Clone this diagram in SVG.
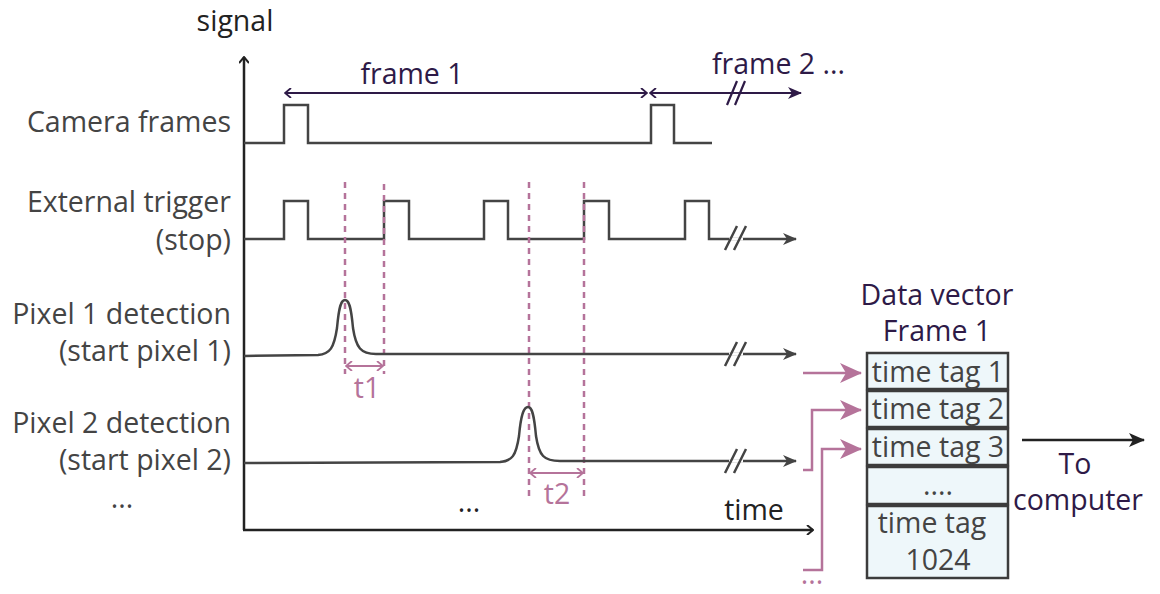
<svg xmlns="http://www.w3.org/2000/svg" width="1160" height="594" viewBox="0 0 1160 594">
<defs>
<style>
.lbl{font-family:"Open Sans","Liberation Sans",sans-serif;font-size:28.5px;fill:#444;}
.blk{font-family:"Open Sans","Liberation Sans",sans-serif;font-size:28.5px;fill:#222;}
.pur{font-family:"Open Sans","Liberation Sans",sans-serif;font-size:28.5px;fill:#2e1a47;}
.pink{font-family:"Open Sans","Liberation Sans",sans-serif;font-size:28.5px;fill:#b5739a;}
.sig{fill:none;stroke:#444;stroke-width:2.5;}
.dash{fill:none;stroke:#b5739a;stroke-width:2.5;stroke-dasharray:6 5;}
.parr{fill:none;stroke:#b5739a;stroke-width:2.5;}
.cell{fill:#eef7fa;stroke:#3c3c3c;stroke-width:2.5;}
.tag{font-family:"Open Sans","Liberation Sans",sans-serif;font-size:28.5px;fill:#444;text-anchor:middle;}
</style>
<marker id="ah" viewBox="0 0 14 12" refX="13" refY="6" markerWidth="14" markerHeight="12" markerUnits="userSpaceOnUse" orient="auto"><path d="M0,0 L14,6 L0,12 L4,6 Z" fill="#444"/></marker>
<marker id="ahp" viewBox="0 0 14 12" refX="13" refY="6" markerWidth="14" markerHeight="12" markerUnits="userSpaceOnUse" orient="auto"><path d="M0,0 L14,6 L0,12 L4,6 Z" fill="#2e1a47"/></marker>
<marker id="ahk" viewBox="0 0 16 14" refX="15" refY="7" markerWidth="16" markerHeight="14" markerUnits="userSpaceOnUse" orient="auto"><path d="M0,0 L16,7 L0,14 L4,7 Z" fill="#222"/></marker>
<marker id="ahm" viewBox="0 0 22 20" refX="21" refY="10" markerWidth="22" markerHeight="20" markerUnits="userSpaceOnUse" orient="auto"><path d="M0,0 L22,10 L0,20 L6,10 Z" fill="#b5739a"/></marker>
<marker id="chev" viewBox="0 0 8 10" refX="7" refY="5" markerWidth="8" markerHeight="10" markerUnits="userSpaceOnUse" orient="auto-start-reverse"><path d="M1,0 L7,5 L1,10" fill="none" stroke="#2e1a47" stroke-width="1.8"/></marker>
<marker id="chevs" viewBox="0 0 8 10" refX="7" refY="5" markerWidth="8" markerHeight="10" markerUnits="userSpaceOnUse" orient="auto-start-reverse"><path d="M1,0 L7,5 L1,10" fill="none" stroke="#b5739a" stroke-width="1.8"/></marker>
<marker id="axh" viewBox="0 0 8 10" refX="7" refY="5" markerWidth="8" markerHeight="10" markerUnits="userSpaceOnUse" orient="auto"><path d="M1,0 L7,5 L1,10" fill="none" stroke="#222" stroke-width="2"/></marker>
</defs>
<rect width="1160" height="594" fill="#fff"/>

<g id="axes">
<line x1="244" y1="530" x2="244" y2="57" stroke="#222" stroke-width="2.5" marker-end="url(#axh)"/>
<line x1="243" y1="530" x2="813" y2="530" stroke="#222" stroke-width="2.5" marker-end="url(#axh)"/>
<text class="blk" x="235" y="31" text-anchor="middle">signal</text>
<text class="blk" x="754" y="520" text-anchor="middle">time</text>
<text class="blk" x="469" y="512" text-anchor="middle">...</text>
</g>

<g id="labels">
<text class="lbl" x="231" y="132" text-anchor="end">Camera frames</text>
<text class="lbl" x="231" y="212" text-anchor="end">External trigger</text>
<text class="lbl" x="231" y="250" text-anchor="end">(stop)</text>
<text class="lbl" x="231" y="324" text-anchor="end">Pixel 1 detection</text>
<text class="lbl" x="231" y="361" text-anchor="end">(start pixel 1)</text>
<text class="lbl" x="231" y="433" text-anchor="end">Pixel 2 detection</text>
<text class="lbl" x="231" y="470" text-anchor="end">(start pixel 2)</text>
<text class="lbl" x="122" y="508" text-anchor="middle">...</text>
</g>

<g id="frame-arrows">
<line x1="285" y1="93" x2="647" y2="93" stroke="#2e1a47" stroke-width="2.2" marker-start="url(#chev)" marker-end="url(#chev)"/>
<line x1="650" y1="93" x2="801" y2="93" stroke="#2e1a47" stroke-width="2.2" marker-start="url(#chev)" marker-end="url(#ahp)"/>
<path d="M727,105 L737,81 M735,105 L745,81" stroke="#2e1a47" stroke-width="2.2" fill="none"/>
<text class="pur" x="412" y="84" text-anchor="middle">frame 1</text>
<text class="pur" x="712" y="74">frame 2 ...</text>
</g>

<g id="camera-frames">
<path class="sig" d="M244,143 H284 V105 H308 V143 H651 V105 H674 V143 H712"/>
</g>

<g id="external-trigger">
<path class="sig" d="M244,239 H284 V201 H308 V239 H384 V201 H409 V239 H484 V201 H508 V239 H584 V201 H609 V239 H685 V201 H709 V239 H796" marker-end="url(#ah)"/>
<line x1="729" y1="239" x2="743" y2="239" stroke="#fff" stroke-width="3"/>
<path d="M725,250 L737,226 M734,250 L746,226" stroke="#444" stroke-width="2.5" fill="none"/>
</g>

<g id="dashed-markers">
<line class="dash" x1="345" y1="182" x2="345" y2="374"/>
<line class="dash" x1="384" y1="184" x2="384" y2="374"/>
<line class="dash" x1="529" y1="182" x2="529" y2="496"/>
<line class="dash" x1="584" y1="182" x2="584" y2="496"/>
</g>

<g id="pixel1">
<path class="sig" d="M244,356 L318,355 C330,354 334,348 337,328 C339,306 341,300 345,300 C349,300 351,306 353,328 C356,348 361,354 376,354 L796,354" marker-end="url(#ah)"/>
<line x1="729" y1="354" x2="743" y2="354" stroke="#fff" stroke-width="3"/>
<path d="M725,366 L737,342 M734,366 L746,342" stroke="#444" stroke-width="2.5" fill="none"/>
<line x1="346" y1="366" x2="383" y2="366" stroke="#b5739a" stroke-width="2.2" marker-start="url(#chevs)" marker-end="url(#chevs)"/>
<text class="pink" x="367" y="398" text-anchor="middle">t1</text>
</g>

<g id="pixel2">
<path class="sig" d="M244,463 L500,462 C512,461 516,456 519,436 C521,414 524,407 528,407 C532,407 534,414 536,436 C539,456 544,461 560,461 L796,461" marker-end="url(#ah)"/>
<line x1="729" y1="461" x2="743" y2="461" stroke="#fff" stroke-width="3"/>
<path d="M725,473 L737,449 M734,473 L746,449" stroke="#444" stroke-width="2.5" fill="none"/>
<line x1="530" y1="473" x2="583" y2="473" stroke="#b5739a" stroke-width="2.2" marker-start="url(#chevs)" marker-end="url(#chevs)"/>
<text class="pink" x="557" y="504" text-anchor="middle">t2</text>
</g>

<g id="connectors">
<line class="parr" x1="803" y1="373" x2="861" y2="373" marker-end="url(#ahm)"/>
<polyline class="parr" points="803,470 812,470 812,410 861,410" marker-end="url(#ahm)"/>
<polyline class="parr" points="803,570 822,570 822,449 861,449" marker-end="url(#ahm)"/>
<text class="pink" x="812" y="584" text-anchor="middle">...</text>
<line x1="1022" y1="440" x2="1144" y2="440" stroke="#222" stroke-width="2.5" marker-end="url(#ahk)"/>
</g>

<g id="data-vector">
<text class="pur" x="937" y="305" text-anchor="middle">Data vector</text>
<text class="pur" x="937" y="341" text-anchor="middle">Frame 1</text>
<rect class="cell" x="867" y="353" width="141" height="36"/>
<rect class="cell" x="867" y="391" width="141" height="36"/>
<rect class="cell" x="867" y="429" width="141" height="36"/>
<rect class="cell" x="867" y="467" width="141" height="37"/>
<rect class="cell" x="867" y="506" width="141" height="72"/>
<text class="tag" x="938" y="382">time tag 1</text>
<text class="tag" x="938" y="419">time tag 2</text>
<text class="tag" x="938" y="457">time tag 3</text>
<text class="tag" x="938" y="495">....</text>
<text class="tag" x="932" y="533">time tag</text>
<text class="tag" x="938" y="570">1024</text>
</g>

<g id="to-computer">
<text class="pur" x="1075" y="474" text-anchor="middle">To</text>
<text class="pur" x="1078" y="510" text-anchor="middle">computer</text>
</g>
</svg>
